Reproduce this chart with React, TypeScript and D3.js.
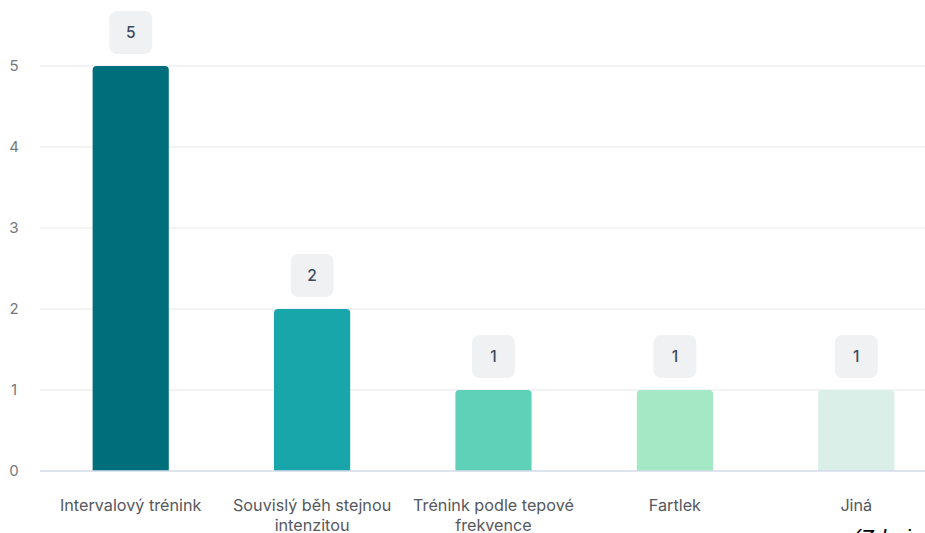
import React from "react";
import * as d3 from "d3";

const categories = [
  ["Intervalový trénink"],
  ["Souvislý běh stejnou", "intenzitou"],
  ["Trénink podle tepové", "frekvence"],
  ["Fartlek"],
  ["Jiná"],
];
const values = [5, 2, 1, 1, 1];
const colors = ["#016f7b", "#18a6ab", "#60d1b9", "#a4e8c5", "#daefe7"];
const yTicks = [0, 1, 2, 3, 4, 5];

export default function App() {
  const W = 925, H = 533;
  const left = 40, right = 947;
  const x = d3.scaleBand<number>().domain(values.map((_, i) => i)).range([left, right]).paddingInner(0.58).paddingOuter(0.29);
  const y = d3.scaleLinear().domain([0, 5]).range([471, 66]);
  const font = "Inter, 'Noto Sans', sans-serif";
  return (
    <svg width={W} height={H} style={{ position: "absolute", left: 0, top: 0, background: "#fff" }}>
      {yTicks.map((t) => (
        <g key={t}>
          {t > 0 && <line x1={left} x2={W} y1={y(t)} y2={y(t)} stroke="#e5e7ea" strokeWidth={1} />}
          <text x={14} y={y(t)} dy="0.35em" textAnchor="middle" fontFamily={font} fontSize={15} fill="#75787d">{t}</text>
        </g>
      ))}
      {values.map((v, i) => {
        const bx = x(i)!;
        const bw = x.bandwidth();
        const top = y(v);
        const r = 4;
        const d = `M${bx},${y(0)} L${bx},${top + r} Q${bx},${top} ${bx + r},${top} L${bx + bw - r},${top} Q${bx + bw},${top} ${bx + bw},${top + r} L${bx + bw},${y(0)} Z`;
        const cx = bx + bw / 2;
        return (
          <g key={i}>
            <path d={d} fill={colors[i]} />
            <rect x={cx - 21.5} y={top - 55} width={43} height={43} rx={8} fill="#f0f1f2" />
            <text x={cx} y={top - 33.5} dy="0.36em" textAnchor="middle" fontFamily={font} fontSize={15.5} fontWeight={500} fill="#3e4a5e">{v}</text>
            {categories[i].map((line, j) => (
              <text key={j} x={cx} y={511 + j * 20} textAnchor="middle" fontFamily={font} fontSize={16.2} fill="#55585d">{line}</text>
            ))}
          </g>
        );
      })}
      <line x1={left} x2={W} y1={y(0)} y2={y(0)} stroke="#d3dbe9" strokeWidth={1.5} />
      <text x={853} y={545} fontFamily="'Liberation Sans', Arial, sans-serif" fontStyle="italic" fontSize={22} fill="#000">(Zdroj</text>
    </svg>
  );
}
